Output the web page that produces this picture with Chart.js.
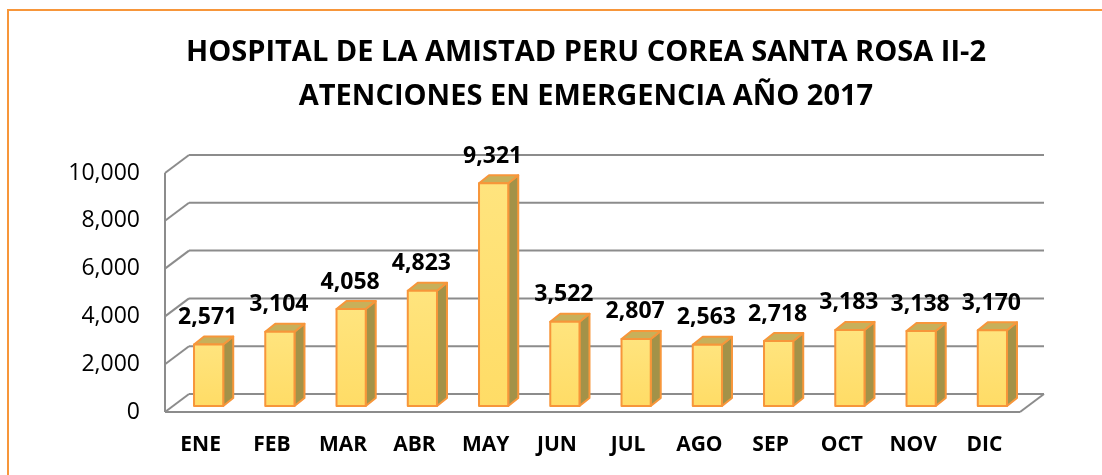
<!DOCTYPE html>
<html>
<head>
<meta charset="utf-8">
<script src="https://cdn.jsdelivr.net/npm/chart.js@4"></script>
<style>
  body { margin: 0; background: #fff; }
  #wrap { width: 1102px; height: 475px; }
</style>
</head>
<body>
<div id="wrap"><canvas id="myChart"></canvas></div>
<script>
const titulo = ['HOSPITAL DE LA AMISTAD PERU COREA SANTA ROSA II-2', 'ATENCIONES EN EMERGENCIA AÑO 2017'];
const meses = ['ENE', 'FEB', 'MAR', 'ABR', 'MAY', 'JUN', 'JUL', 'AGO', 'SEP', 'OCT', 'NOV', 'DIC'];
const atenciones = [2571, 3104, 4058, 4823, 9321, 3522, 2807, 2563, 2718, 3183, 3138, 3170];
const ejeMin = 0;
const ejeMax = 10000;
const ejePaso = 2000;

const FONT = "'Open Sans', sans-serif";
const GRID = '#8c8c8c';
const ORANGE = '#F7963A';
const WALL = { dx: 24, dy: -18 };   // back wall offset
const FRONT = { dx: 8, dy: -6 };    // bar front face offset
const DEPTH = { dx: 10, dy: -8 };   // bar depth

function line(ctx, x1, y1, x2, y2) {
  ctx.beginPath();
  ctx.moveTo(x1, y1);
  ctx.lineTo(x2, y2);
  ctx.stroke();
}

function poly(ctx, pts, fill) {
  ctx.beginPath();
  ctx.moveTo(pts[0][0], pts[0][1]);
  for (let i = 1; i < pts.length; i++) ctx.lineTo(pts[i][0], pts[i][1]);
  ctx.closePath();
  ctx.fillStyle = fill;
  ctx.fill();
  ctx.stroke();
}

const pseudo3d = {
  id: 'pseudo3d',
  afterLayout(chart) {
    // title is centred a bit left of the plot, like the original
    const tb = chart.titleBlock;
    tb.left = 152;
    tb.right = chart.chartArea.right;
  },
  beforeDraw(chart) {
    const ctx = chart.ctx;
    ctx.save();
    ctx.strokeStyle = ORANGE;
    ctx.lineWidth = 2;
    ctx.strokeRect(8, 10, 2000, 2000);
    ctx.restore();
  },
  beforeDatasetsDraw(chart) {
    const { ctx, chartArea: a, scales: { y } } = chart;
    ctx.save();
    ctx.strokeStyle = GRID;
    ctx.lineWidth = 2;
    y.ticks.forEach(t => {
      const py = y.getPixelForValue(t.value);
      line(ctx, a.left, py, a.left + WALL.dx, py + WALL.dy);
      line(ctx, a.left + WALL.dx, py + WALL.dy, a.right + WALL.dx, py + WALL.dy);
    });
    const base = y.getPixelForValue(ejeMin);
    line(ctx, a.left, y.getPixelForValue(ejeMax), a.left, base);
    line(ctx, a.left, base, a.right, base);
    line(ctx, a.right, base, a.right + WALL.dx, base + WALL.dy);
    ctx.restore();
  },
  afterDatasetsDraw(chart) {
    const ctx = chart.ctx;
    const meta = chart.getDatasetMeta(0);
    ctx.save();
    ctx.strokeStyle = ORANGE;
    ctx.lineWidth = 2;
    ctx.lineJoin = 'round';
    meta.data.forEach((bar, i) => {
      const x0 = bar.x - bar.width / 2 + FRONT.dx;
      const x1 = x0 + bar.width;
      const yT = bar.y + FRONT.dy;
      const yB = bar.base + FRONT.dy;
      poly(ctx, [[x1, yT], [x1 + DEPTH.dx, yT + DEPTH.dy], [x1 + DEPTH.dx, yB + DEPTH.dy], [x1, yB]], '#A39248');
      poly(ctx, [[x0, yT], [x0 + DEPTH.dx, yT + DEPTH.dy], [x1 + DEPTH.dx, yT + DEPTH.dy], [x1, yT]], '#C7B05A');
      const g = ctx.createLinearGradient(0, yT, 0, yB);
      g.addColorStop(0, '#FFE47E');
      g.addColorStop(1, '#FFDC66');
      poly(ctx, [[x0, yT], [x1, yT], [x1, yB], [x0, yB]], g);

      ctx.fillStyle = '#000';
      ctx.font = 'bold 23px ' + FONT;
      ctx.textAlign = 'center';
      ctx.textBaseline = 'middle';
      ctx.fillText(atenciones[i].toLocaleString('en-US'), bar.x + 7, yT - 27);
    });
    ctx.restore();
  }
};

const ctx = document.getElementById('myChart').getContext('2d');
const myChart = new Chart(ctx, {
  type: 'bar',
  data: {
    labels: meses,
    datasets: [{
      label: 'Atenciones',
      data: atenciones,
      backgroundColor: 'rgba(0,0,0,0)',
      borderWidth: 0,
      barPercentage: 0.41,
      categoryPercentage: 1
    }]
  },
  options: {
    responsive: true,
    maintainAspectRatio: false,
    animation: false,
    layout: { padding: { left: 0, right: 82, top: 0, bottom: 0 } },
    plugins: {
      legend: { display: false },
      tooltip: { enabled: false },
      title: {
        display: true,
        text: titulo,
        color: '#000',
        font: { family: FONT, size: 29, weight: 'bold', lineHeight: 1.5 },
        padding: { top: 31, bottom: 55 }
      }
    },
    scales: {
      x: {
        grid: { display: false, drawTicks: false },
        border: { display: false },
        ticks: { color: '#000', padding: 20, font: { family: FONT, size: 21, weight: 'bold' } },
        afterFit(scale) { scale.height = 63; }
      },
      y: {
        min: ejeMin,
        max: ejeMax,
        grid: { display: false, drawTicks: false },
        border: { display: false },
        ticks: {
          stepSize: ejePaso,
          color: '#000',
          padding: 25,
          font: { family: FONT, size: 23 },
          callback: v => v.toLocaleString('en-US')
        },
        afterFit(scale) { scale.width = 165; }
      }
    }
  },
  plugins: [pseudo3d]
});
</script>
</body>
</html>
